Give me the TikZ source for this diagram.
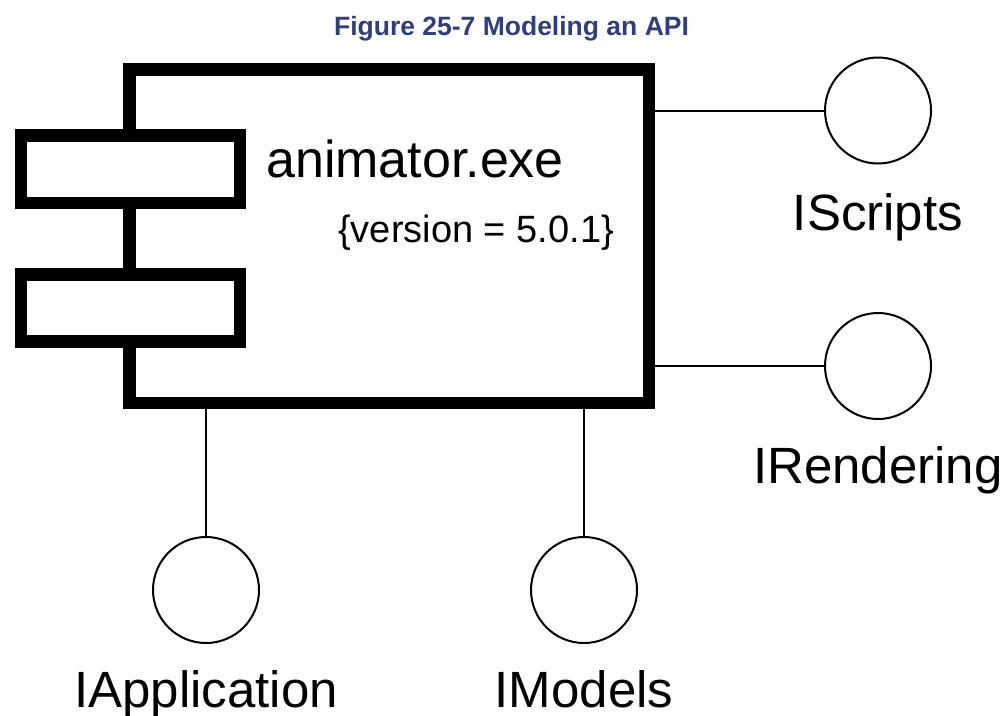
\documentclass[tikz,border=0pt]{standalone}
\usepackage{fontspec}
\setmainfont{Liberation Sans}
\definecolor{titleblue}{RGB}{47,62,125}
\begin{document}
\begin{tikzpicture}[x=1pt,y=-1pt,
  thickbox/.style={draw=black, line width=12.5pt, fill=white, inner sep=0pt, rectangle},
  iface/.style={draw=black, line width=2pt, circle, minimum size=106pt, inner sep=0pt, fill=white},
  conn/.style={draw=black, line width=2pt},
  lbl/.style={anchor=base, inner sep=0pt, font=\fontsize{51}{51}\selectfont, text=black},
]
\useasboundingbox[fill=white] (0,0) rectangle (1008,715);

% title
\node[anchor=base, inner sep=0pt, text=titleblue, font=\bfseries\fontsize{26.5}{26.5}\selectfont] (title) at (511.5,35) {Figure 25-7 Modeling an API};

% component
\node[thickbox, minimum width=519.5pt, minimum height=333.5pt] (comp) at (389,236) {};
\node[thickbox, minimum width=219pt, minimum height=67.5pt] (tab1) at (130.5,169.25) {};
\node[thickbox, minimum width=219pt, minimum height=67pt] (tab2) at (130.5,308) {};

\node[anchor=base west, inner sep=0pt, font=\fontsize{52}{52}\selectfont] (name) at (266,177) {animator.exe};
\node[anchor=base west, inner sep=0pt, font=\fontsize{38}{38}\selectfont] (ver) at (338,242) {\{version = 5.0.1\}};

% interfaces
\node[iface] (iscripts) at (878,110.5) {};
\node[iface] (irender) at (878,366) {};
\node[iface] (iapp) at (206,590) {};
\node[iface] (imodels) at (584,590) {};

\draw[conn] (comp.east |- iscripts.west) -- (iscripts.west);
\draw[conn] (comp.east |- irender.west) -- (irender.west);
\draw[conn] (comp.south -| iapp.north) -- (iapp.north);
\draw[conn] (comp.south -| imodels.north) -- (imodels.north);

\node[lbl] (lscripts) at (878,230) {IScripts};
\node[lbl] (lrender) at (878,483) {IRendering};
\node[lbl] (lapp) at (206,707) {IApplication};
\node[lbl] (lmodels) at (584,707) {IModels};
\end{tikzpicture}
\end{document}
